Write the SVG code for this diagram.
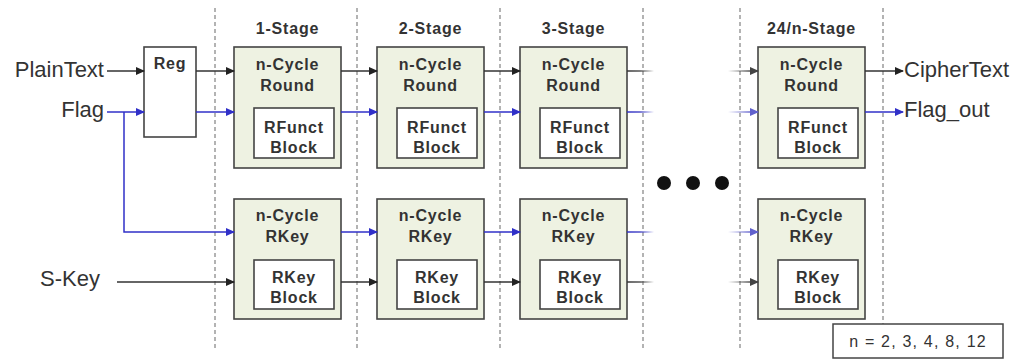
<svg xmlns="http://www.w3.org/2000/svg" width="1025" height="360" viewBox="0 0 1025 360">
<style>
.bg{fill:#ffffff}
.sep{stroke:#9a9a9a;stroke-width:1.5;stroke-dasharray:4,3;fill:none}
.box{fill:#eef2e2;stroke:#444;stroke-width:1.6}
.reg{fill:#ffffff;stroke:#444;stroke-width:1.6}
.inner{fill:#ffffff;stroke:#444;stroke-width:1.6}
.bt{font-family:"Liberation Sans",Arial,sans-serif;font-weight:bold;font-size:16px;fill:#333;text-anchor:middle;letter-spacing:0.8px}
.lbl{font-family:"Liberation Sans",Arial,sans-serif;font-size:22px;fill:#333}
.k{stroke:#333;stroke-width:1.5;fill:none}
.b{stroke:#3030c8;stroke-width:1.5;fill:none}
.legend{font-family:"Liberation Sans",Arial,sans-serif;font-size:16px;fill:#333;text-anchor:middle;letter-spacing:1.2px}
</style>
<defs>
<marker id="ak" markerWidth="9" markerHeight="8" refX="8" refY="4" orient="auto" markerUnits="userSpaceOnUse"><path d="M0,0 L9,4 L0,8 z" fill="#222"/></marker>
<marker id="ab" markerWidth="9" markerHeight="8" refX="8" refY="4" orient="auto" markerUnits="userSpaceOnUse"><path d="M0,0 L9,4 L0,8 z" fill="#3030c8"/></marker>
<marker id="akf" markerWidth="9" markerHeight="8" refX="8" refY="4" orient="auto" markerUnits="userSpaceOnUse"><path d="M0,0 L9,4 L0,8 z" fill="#444"/></marker>
<marker id="abf" markerWidth="9" markerHeight="8" refX="8" refY="4" orient="auto" markerUnits="userSpaceOnUse"><path d="M0,0 L9,4 L0,8 z" fill="#6060cc"/></marker>
<linearGradient id="foK" gradientUnits="userSpaceOnUse" x1="626" y1="0" x2="654" y2="0"><stop offset="0" stop-color="#333"/><stop offset="0.5" stop-color="#555"/><stop offset="1" stop-color="#333" stop-opacity="0"/></linearGradient>
<linearGradient id="foB" gradientUnits="userSpaceOnUse" x1="626" y1="0" x2="654" y2="0"><stop offset="0" stop-color="#3030c8"/><stop offset="0.5" stop-color="#5050c8"/><stop offset="1" stop-color="#3030c8" stop-opacity="0"/></linearGradient>
<linearGradient id="fiK" gradientUnits="userSpaceOnUse" x1="728" y1="0" x2="752" y2="0"><stop offset="0" stop-color="#444" stop-opacity="0"/><stop offset="1" stop-color="#444"/></linearGradient>
<linearGradient id="fiB" gradientUnits="userSpaceOnUse" x1="728" y1="0" x2="752" y2="0"><stop offset="0" stop-color="#6060cc" stop-opacity="0"/><stop offset="1" stop-color="#6060cc"/></linearGradient>
</defs>
<rect class="bg" x="0" y="0" width="1025" height="360"/>

<g id="separators">
<line class="sep" x1="215" y1="8" x2="215" y2="350"/>
<line class="sep" x1="357" y1="8" x2="357" y2="350"/>
<line class="sep" x1="500" y1="8" x2="500" y2="350"/>
<line class="sep" x1="643" y1="8" x2="643" y2="350"/>
<line class="sep" x1="740" y1="8" x2="740" y2="350"/>
<line class="sep" x1="883" y1="8" x2="883" y2="350"/>
</g>

<g id="stage-labels">
<text class="bt" x="287.5" y="34">1-Stage</text>
<text class="bt" x="430.5" y="34">2-Stage</text>
<text class="bt" x="573.5" y="34">3-Stage</text>
<text class="bt" x="811.5" y="34">24/n-Stage</text>
</g>

<g id="io-labels">
<text class="lbl" x="104" y="77" text-anchor="end">PlainText</text>
<text class="lbl" x="104" y="117" text-anchor="end">Flag</text>
<text class="lbl" x="40" y="286">S-Key</text>
<text class="lbl" x="904" y="77">CipherText</text>
<text class="lbl" x="904" y="117">Flag_out</text>
</g>

<g id="reg">
<rect class="reg" x="144" y="47" width="52" height="90"/>
<text class="bt" x="170" y="69">Reg</text>
</g>

<g id="round1">
<rect class="box" x="234" y="47" width="107" height="121"/>
<text class="bt" x="287.5" y="70">n-Cycle</text>
<text class="bt" x="287.5" y="91">Round</text>
<rect class="inner" x="254" y="108" width="80" height="50"/>
<text class="bt" x="294" y="133">RFunct</text>
<text class="bt" x="294" y="153">Block</text>
</g>
<g id="round2">
<rect class="box" x="377" y="47" width="107" height="121"/>
<text class="bt" x="430.5" y="70">n-Cycle</text>
<text class="bt" x="430.5" y="91">Round</text>
<rect class="inner" x="397" y="108" width="80" height="50"/>
<text class="bt" x="437" y="133">RFunct</text>
<text class="bt" x="437" y="153">Block</text>
</g>
<g id="round3">
<rect class="box" x="520" y="47" width="107" height="121"/>
<text class="bt" x="573.5" y="70">n-Cycle</text>
<text class="bt" x="573.5" y="91">Round</text>
<rect class="inner" x="540" y="108" width="80" height="50"/>
<text class="bt" x="580" y="133">RFunct</text>
<text class="bt" x="580" y="153">Block</text>
</g>
<g id="roundN">
<rect class="box" x="758" y="47" width="107" height="121"/>
<text class="bt" x="811.5" y="70">n-Cycle</text>
<text class="bt" x="811.5" y="91">Round</text>
<rect class="inner" x="778" y="108" width="80" height="50"/>
<text class="bt" x="818" y="133">RFunct</text>
<text class="bt" x="818" y="153">Block</text>
</g>

<g id="key1">
<rect class="box" x="234" y="199" width="107" height="120"/>
<text class="bt" x="287.5" y="221">n-Cycle</text>
<text class="bt" x="287.5" y="242">RKey</text>
<rect class="inner" x="254" y="260" width="80" height="49"/>
<text class="bt" x="294" y="283">RKey</text>
<text class="bt" x="294" y="303">Block</text>
</g>
<g id="key2">
<rect class="box" x="377" y="199" width="107" height="120"/>
<text class="bt" x="430.5" y="221">n-Cycle</text>
<text class="bt" x="430.5" y="242">RKey</text>
<rect class="inner" x="397" y="260" width="80" height="49"/>
<text class="bt" x="437" y="283">RKey</text>
<text class="bt" x="437" y="303">Block</text>
</g>
<g id="key3">
<rect class="box" x="520" y="199" width="107" height="120"/>
<text class="bt" x="573.5" y="221">n-Cycle</text>
<text class="bt" x="573.5" y="242">RKey</text>
<rect class="inner" x="540" y="260" width="80" height="49"/>
<text class="bt" x="580" y="283">RKey</text>
<text class="bt" x="580" y="303">Block</text>
</g>
<g id="keyN">
<rect class="box" x="758" y="199" width="107" height="120"/>
<text class="bt" x="811.5" y="221">n-Cycle</text>
<text class="bt" x="811.5" y="242">RKey</text>
<rect class="inner" x="778" y="260" width="80" height="49"/>
<text class="bt" x="818" y="283">RKey</text>
<text class="bt" x="818" y="303">Block</text>
</g>

<g id="connectors">
<line class="k" x1="107" y1="71" x2="144" y2="71" marker-end="url(#ak)"/>
<line class="b" x1="107" y1="112" x2="144" y2="112" marker-end="url(#ab)"/>
<polyline class="b" points="124,112 124,232 234,232" marker-end="url(#ab)"/>
<line class="k" x1="117" y1="282" x2="234" y2="282" marker-end="url(#ak)"/>
<line class="k" x1="196" y1="71" x2="234" y2="71" marker-end="url(#ak)"/>
<line class="b" x1="196" y1="112" x2="234" y2="112" marker-end="url(#ab)"/>
<line class="k" x1="341" y1="71" x2="377" y2="71" marker-end="url(#ak)"/>
<line class="b" x1="341" y1="112" x2="377" y2="112" marker-end="url(#ab)"/>
<line class="b" x1="341" y1="232" x2="377" y2="232" marker-end="url(#ab)"/>
<line class="k" x1="341" y1="282" x2="377" y2="282" marker-end="url(#ak)"/>
<line class="k" x1="484" y1="71" x2="520" y2="71" marker-end="url(#ak)"/>
<line class="b" x1="484" y1="112" x2="520" y2="112" marker-end="url(#ab)"/>
<line class="b" x1="484" y1="232" x2="520" y2="232" marker-end="url(#ab)"/>
<line class="k" x1="484" y1="282" x2="520" y2="282" marker-end="url(#ak)"/>
<line x1="627" y1="71" x2="654" y2="71" stroke="url(#foK)" stroke-width="1.5"/>
<line x1="627" y1="112" x2="654" y2="112" stroke="url(#foB)" stroke-width="1.5"/>
<line x1="627" y1="232" x2="654" y2="232" stroke="url(#foB)" stroke-width="1.5"/>
<line x1="627" y1="282" x2="654" y2="282" stroke="url(#foK)" stroke-width="1.5"/>
<line x1="728" y1="71" x2="758" y2="71" stroke="url(#fiK)" stroke-width="1.5" marker-end="url(#akf)"/>
<line x1="728" y1="112" x2="758" y2="112" stroke="url(#fiB)" stroke-width="1.5" marker-end="url(#abf)"/>
<line x1="728" y1="232" x2="758" y2="232" stroke="url(#fiB)" stroke-width="1.5" marker-end="url(#abf)"/>
<line x1="728" y1="282" x2="758" y2="282" stroke="url(#fiK)" stroke-width="1.5" marker-end="url(#akf)"/>
<line class="k" x1="865" y1="71" x2="903" y2="71" marker-end="url(#ak)"/>
<line class="b" x1="865" y1="112" x2="903" y2="112" marker-end="url(#ab)"/>
</g>

<g id="ellipsis">
<circle cx="664" cy="183" r="7" fill="#111"/>
<circle cx="693" cy="183" r="7" fill="#111"/>
<circle cx="722" cy="183" r="7" fill="#111"/>
</g>

<g id="legend">
<rect x="833" y="324" width="170" height="34" fill="#ffffff" stroke="#444" stroke-width="1.5"/>
<text class="legend" x="918" y="347">n = 2, 3, 4, 8, 12</text>
</g>
</svg>
